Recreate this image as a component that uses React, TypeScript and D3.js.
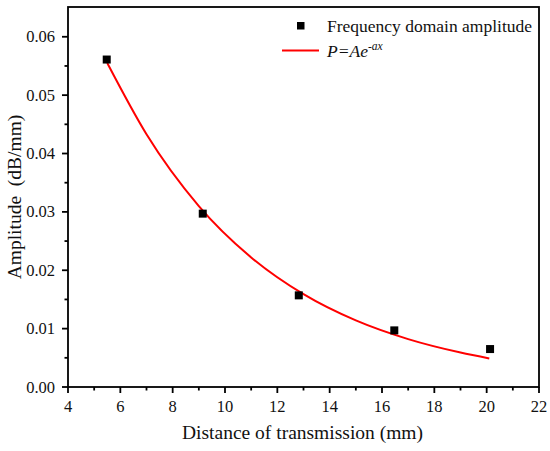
import React from 'react'
import * as d3 from 'd3'

// measured points
const distance = [5.48, 9.15, 12.82, 16.47, 20.13]
const amplitude = [0.0561, 0.0297, 0.0157, 0.0097, 0.0065]

// fitted curve P = A e^(-ax)
const fitX = [5.5, 7, 9, 11, 13, 15, 17, 19, 20.1]
const fitY = [0.0555, 0.0433, 0.031, 0.0222, 0.0159, 0.0114, 0.0082, 0.0059, 0.0049]

const xTicks = [4, 6, 8, 10, 12, 14, 16, 18, 20, 22]
const yTicks = [0, 0.01, 0.02, 0.03, 0.04, 0.05, 0.06]

const font = '"Liberation Serif", "Times New Roman", serif'

const App = () => {
  const width = 550
  const height = 451
  const margin = { top: 7, right: 11, bottom: 64, left: 68 }
  const innerW = width - margin.left - margin.right
  const innerH = height - margin.top - margin.bottom

  const x = d3.scaleLinear().domain([4, 22]).range([0, innerW])
  const y = d3.scaleLinear().domain([0, 0.0651]).range([innerH, 0])

  const xMinor = d3.range(5, 22, 2)
  const yMinor = d3.range(0.005, 0.065, 0.01)

  const line = d3
    .line<number>()
    .x((d) => x(d))
    .y((d, i) => y(fitY[i]))
    .curve(d3.curveMonotoneX)

  const axisStyle = { stroke: '#000', strokeWidth: 1.8 }
  const textStyle = { fontFamily: font, fill: '#111' }

  return (
    <svg
      width={width}
      height={height}
      style={{ position: 'absolute', left: 0, top: 0, background: '#fff' }}
    >
      <g transform={`translate(${margin.left},${margin.top})`}>
        <path d={line(fitX) || ''} fill="none" stroke="#ff0000" strokeWidth={2} />
        {distance.map((d, i) => (
          <rect
            key={i}
            x={x(d) - 4}
            y={y(amplitude[i]) - 4}
            width={8}
            height={8}
            fill="#000"
          />
        ))}

        <rect x={0} y={0} width={innerW} height={innerH} fill="none" style={axisStyle} />

        {/* x axis ticks */}
        {xTicks.map((t) => (
          <g key={t}>
            <line x1={x(t)} x2={x(t)} y1={innerH} y2={innerH + 6} style={axisStyle} />
            <text x={x(t)} y={innerH + 25} textAnchor="middle" fontSize={16.5} style={textStyle}>
              {t}
            </text>
          </g>
        ))}
        {xMinor.map((t) => (
          <line key={t} x1={x(t)} x2={x(t)} y1={innerH} y2={innerH + 3.5} style={axisStyle} />
        ))}

        {/* y axis ticks */}
        {yTicks.map((t) => (
          <g key={t}>
            <line x1={0} x2={-6} y1={y(t)} y2={y(t)} style={axisStyle} />
            <text x={-13} y={y(t) + 5.5} textAnchor="end" fontSize={16.5} style={textStyle}>
              {d3.format('.2f')(t)}
            </text>
          </g>
        ))}
        {yMinor.map((t) => (
          <line key={t} x1={0} x2={-3.5} y1={y(t)} y2={y(t)} style={axisStyle} />
        ))}

        <text x={innerW / 2 - 1} y={innerH + 52} textAnchor="middle" fontSize={19.5} style={textStyle}>
          Distance of transmission (mm)
        </text>
        <text
          transform={`translate(${-47},${innerH / 2}) rotate(-90)`}
          textAnchor="middle"
          fontSize={19.5}
          style={{ ...textStyle, whiteSpace: 'pre' }}
        >
          {'Amplitude  (dB/mm)'}
        </text>
      </g>

      {/* legend */}
      <g>
        <rect x={297} y={22} width={7.5} height={7.5} fill="#000" />
        <text x={327} y={31.5} fontSize={17.5} style={textStyle}>
          Frequency domain amplitude
        </text>
        <line x1={282} x2={319} y1={50.5} y2={50.5} stroke="#ff0000" strokeWidth={2} />
        <text x={327} y={57} fontSize={17.5} fontStyle="italic" style={textStyle}>
          P=Ae
          <tspan fontSize={11.5} dy={-7}>-ax</tspan>
        </text>
      </g>
    </svg>
  )
}

export default App
